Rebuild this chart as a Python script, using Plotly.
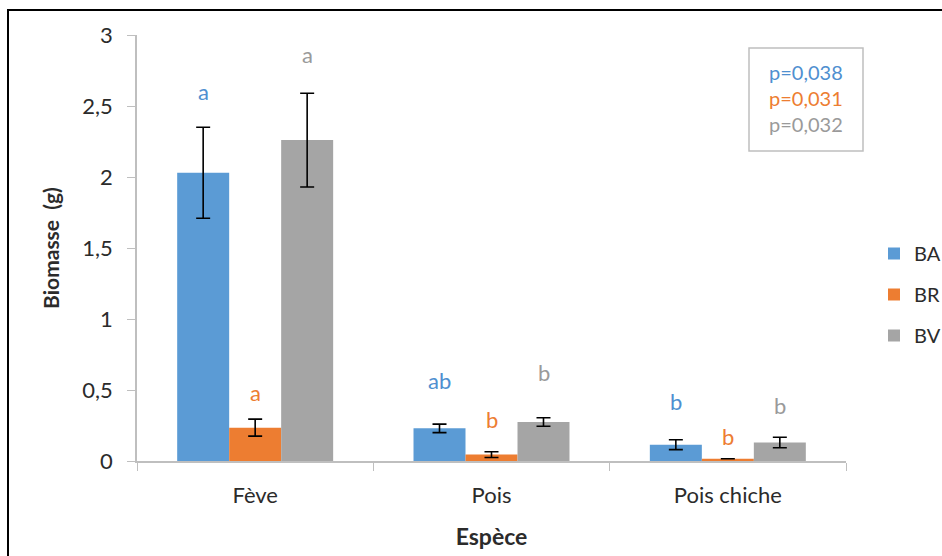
import plotly.graph_objects as go

# Biomass (g) per species and biomass fraction
especes = ["Fève", "Pois", "Pois chiche"]
series = ["BA", "BR", "BV"]
ba = [2.03, 0.23, 0.115]
br = [0.235, 0.045, 0.016]
bv = [2.26, 0.275, 0.13]
ba_err = [0.32, 0.03, 0.035]
br_err = [0.06, 0.02, None]
bv_err = [0.33, 0.03, 0.037]

# Significance letters and the height at which each is written
ba_lettres = ["a", "ab", "b"]
br_lettres = ["a", "b", "b"]
bv_lettres = ["a", "b", "b"]
ba_lettres_y = [2.6, 0.57, 0.42]
br_lettres_y = [0.48, 0.29, 0.17]
bv_lettres_y = [2.86, 0.62, 0.39]

p_valeurs = ["p=0,038", "p=0,031", "p=0,032"]

couleurs = ["#5B9BD5", "#ED7D31", "#A5A5A5"]
couleurs_lettres = ["#4F8FD0", "#ED7D31", "#9A9A9A"]

valeurs = [ba, br, bv]
erreurs = [ba_err, br_err, bv_err]
lettres = [ba_lettres, br_lettres, bv_lettres]
lettres_y = [ba_lettres_y, br_lettres_y, bv_lettres_y]

FONT = "Lato"
TXT = "#2b2b2b"

# plot area in pixels: x 137..846, y 35..461
def px(x):
    return (x - 137) / 709

def py(y):
    return (461 - y) / 426

fig = go.Figure()
for i, nom in enumerate(series):
    fig.add_trace(go.Bar(
        name=nom, x=especes, y=valeurs[i],
        marker=dict(color=couleurs[i], line=dict(width=0)),
        error_y=dict(type="data", array=erreurs[i], color="black",
                     thickness=1.6, width=7, visible=True),
        legendgroup=nom,
    ))

# significance letters above each bar
decalage = [-52, 0, 52]
annotations = []
for i in range(3):
    for j, esp in enumerate(especes):
        annotations.append(dict(
            x=esp, y=lettres_y[i][j], xref="x", yref="y",
            xshift=decalage[i], text=lettres[i][j], showarrow=False,
            xanchor="center", yanchor="middle",
            font=dict(family=FONT, size=22, color=couleurs_lettres[i]),
        ))

# p-values box
for k, p in enumerate(p_valeurs):
    annotations.append(dict(
        x=px(806), y=py(72 + 26 * k),
        xref="paper", yref="paper", text=p, showarrow=False,
        xanchor="center", yanchor="middle",
        font=dict(family=FONT, size=20, color=couleurs_lettres[k]),
    ))

fig.update_layout(
    width=942, height=556,
    margin=dict(l=137, r=96, t=35, b=95, autoexpand=False),
    paper_bgcolor="white", plot_bgcolor="white",
    barmode="group", bargap=0.34, bargroupgap=0,
    font=dict(family=FONT, size=20, color=TXT),
    showlegend=True,
    legend=dict(
        x=px(874), y=py(234), xanchor="left", yanchor="top",
        font=dict(family=FONT, size=20, color=TXT),
        tracegroupgap=12, itemwidth=30, bgcolor="rgba(0,0,0,0)",
    ),
    xaxis=dict(
        showline=True, linecolor="#BFBFBF", linewidth=1.5,
        ticks="outside", tickson="boundaries", ticklen=8, tickcolor="#BFBFBF",
        tickfont=dict(family=FONT, size=22, color=TXT),
        ticklabelstandoff=14,
        title=dict(text="<b>Espèce</b>", font=dict(family=FONT, size=23, color=TXT),
                   standoff=22),
        showgrid=False,
    ),
    yaxis=dict(
        range=[0, 3], tickvals=[0, 0.5, 1, 1.5, 2, 2.5, 3],
        ticktext=["0", "0,5", "1", "1,5", "2", "2,5", "3"],
        showline=True, linecolor="#BFBFBF", linewidth=1.5,
        ticks="outside", ticklen=8, tickcolor="#BFBFBF",
        tickfont=dict(family=FONT, size=22, color=TXT),
        ticklabelstandoff=10,
        title=dict(text="<b>Biomasse  (g)</b>", font=dict(family=FONT, size=21, color=TXT),
                   standoff=17),
        showgrid=False, zeroline=False,
    ),
    annotations=annotations,
    shapes=[
        # p-values frame
        dict(type="rect", xref="paper", yref="paper",
             x0=px(749), x1=px(863), y0=py(151), y1=py(48),
             line=dict(color="#BFBFBF", width=1.5), fillcolor="rgba(0,0,0,0)"),
        # outer frame
        dict(type="rect", xref="paper", yref="paper",
             x0=px(8), x1=px(950), y0=py(570), y1=py(10),
             line=dict(color="black", width=2), fillcolor="rgba(0,0,0,0)"),
    ],
)

fig.write_html("out.html")
